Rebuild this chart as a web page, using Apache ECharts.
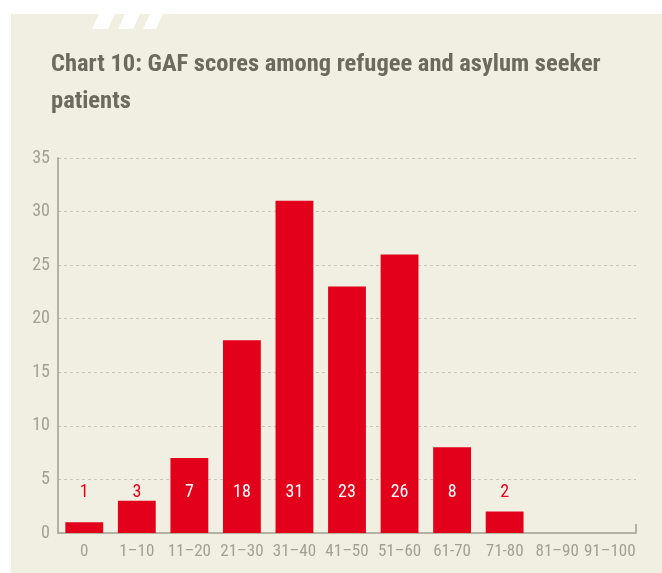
<!DOCTYPE html>
<html>
<head>
<meta charset="utf-8">
<script src="https://cdn.jsdelivr.net/npm/echarts@6/dist/echarts.min.js"></script>
<style>
  html, body { margin: 0; padding: 0; background: #ffffff; }
  #chart { width: 662px; height: 573px; }
</style>
</head>
<body>
<div id="chart"></div>
<script>
// GAF score bands and patient counts
var categories = ['0', '1–10', '11–20', '21–30', '31–40', '41–50', '51–60', '61-70', '71-80', '81–90', '91–100'];
var counts = [1, 3, 7, 18, 31, 23, 26, 8, 2, null, null];
var yTicks = [0, 5, 10, 15, 20, 25, 30, 35];

var red = '#e2001a';
var grey = '#a3a093';
var font = '"Liberation Sans Narrow", "Roboto Condensed", "DejaVu Sans Condensed", sans-serif';

var chart = echarts.init(document.getElementById('chart'));
var option = {
    backgroundColor: '#ffffff',
    animation: false,
    title: {
        text: 'Chart 10: GAF scores among refugee and asylum seeker\npatients',
        left: 46,
        top: 41,
        textStyle: {
            fontFamily: font,
            fontWeight: 'bold',
            fontSize: 24.5,
            lineHeight: 37,
            color: '#6c6a5e'
        }
    },
    graphic: [
        { type: 'rect', z: -10, shape: { x: 11, y: 14, width: 651, height: 559 }, style: { fill: '#f1eee2' } },
        { type: 'polygon', z: -5, shape: { points: [[99, 14], [115, 14], [108, 29], [92, 29]] }, style: { fill: '#ffffff' } },
        { type: 'polygon', z: -5, shape: { points: [[125, 14], [140, 14], [133, 29], [118, 29]] }, style: { fill: '#ffffff' } },
        { type: 'polygon', z: -5, shape: { points: [[150, 14], [163, 14], [156, 29], [143, 29]] }, style: { fill: '#ffffff' } }
    ],
    grid: { left: 58, right: 26, top: 158, bottom: 40 },
    xAxis: {
        type: 'category',
        data: categories,
        axisLine: { lineStyle: { color: '#b4b1a4', width: 2 } },
        axisTick: { show: false },
        axisLabel: { color: grey, fontFamily: font, fontSize: 17, margin: 10, interval: 0 }
    },
    yAxis: {
        type: 'value',
        min: 0,
        max: 35,
        interval: 5,
        axisLine: { show: true, lineStyle: { color: '#b4b1a4', width: 2 } },
        axisTick: { show: false },
        splitLine: { lineStyle: { color: '#c9c6b8', type: [3, 3], width: 1 } },
        axisLabel: {
            color: grey, fontFamily: font, fontSize: 18, margin: 8,
            formatter: function (v) { return yTicks.indexOf(v) >= 0 ? String(v) : ''; }
        }
    },
    series: [{
        type: 'bar',
        data: counts.map(function (v) {
            return {
                value: v,
                label: { color: v !== null && v < 5 ? red : '#ffffff' }
            };
        }),
        barCategoryGap: '28%',
        itemStyle: { color: red },
        label: {
            show: true,
            position: 'insideBottom',
            distance: 32,
            fontFamily: font,
            fontSize: 18
        }
    }, {
        // right-end tick on the x axis
        type: 'line',
        data: [],
        markLine: {
            silent: true,
            symbol: 'none',
            label: { show: false },
            lineStyle: { color: '#b4b1a4', width: 2, type: 'solid' },
            data: [[{ x: 636, y: 524 }, { x: 636, y: 533 }]]
        }
    }]
};
chart.setOption(option);
</script>
</body>
</html>
